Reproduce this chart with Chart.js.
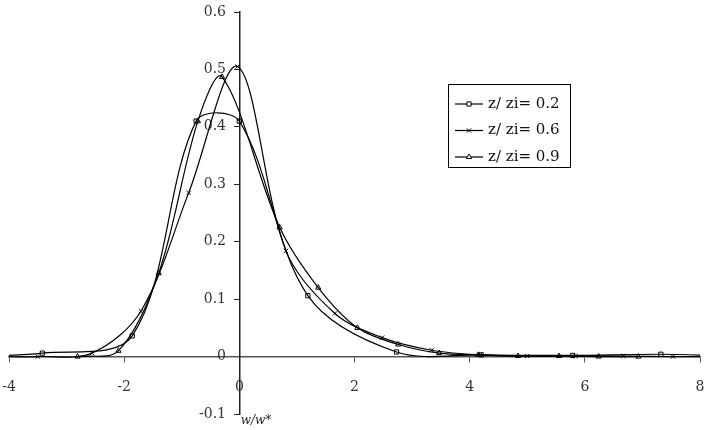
<!DOCTYPE html>
<html>
<head>
<meta charset="utf-8">
<script src="https://cdn.jsdelivr.net/npm/chart.js@4/dist/chart.umd.min.js"></script>
<style>
  html, body { margin: 0; padding: 0; background: #fff; }
  #wrap { position: relative; width: 705px; height: 430px; }
</style>
</head>
<body>
<div id="wrap"><canvas id="chart"></canvas></div>
<script>
// values
const seriesNames = ['z/ zi= 0.2', 'z/ zi= 0.6', 'z/ zi= 0.9'];
const pointStyles = ['rect', 'crossRot', 'triangle'];

const x02 = [-4.97, -3.42, -1.86, -0.75, 0, 1.19, 2.73, 4.2, 5.79, 7.32, 8.87];
const y02 = [0, 0.006, 0.036, 0.41, 0.41, 0.106, 0.008, 0.003, 0.002, 0.004, 0];

const x06 = [-4.34, -3.5, -2.56, -1.71, -0.88, -0.03, 0.81, 1.66, 2.48, 3.34, 4.18, 5.0, 5.84, 6.67, 7.53, 8.38];
const y06 = [0, 0, 0.006, 0.079, 0.285, 0.505, 0.184, 0.075, 0.033, 0.011, 0.003, 0.001, 0.001, 0.001, 0, 0];

const x09 = [-2.81, -2.1, -1.4, -0.72, -0.3, 0.7, 1.37, 2.05, 2.76, 3.47, 4.15, 4.84, 5.55, 6.24, 6.93];
const y09 = [0, 0.01, 0.145, 0.41, 0.487, 0.225, 0.12, 0.05, 0.021, 0.006, 0.003, 0.001, 0.001, 0, 0];

const xTicks = [-4, -2, 0, 2, 4, 6, 8];
const yTicks = [-0.1, 0, 0.1, 0.2, 0.3, 0.4, 0.5, 0.6];
const xTitle = 'w/w*';

const FONT = 'DejaVu Serif';
const INK = '#000';

function pts(xs, ys) {
  return xs.map((x, i) => ({ x, y: ys[i] }));
}

function makeSet(label, data, style) {
  return {
    label,
    data,
    pointStyle: style,
    borderColor: INK,
    backgroundColor: 'rgba(0,0,0,0)',
    borderWidth: 1.2,
    pointRadius: 3,
    pointBorderWidth: 1,
    pointBorderColor: INK,
    pointBackgroundColor: 'rgba(0,0,0,0)',
    tension: 0.33,
    fill: false,
  };
}

// legend box drawn on the canvas, built from the datasets
const boxLegend = {
  id: 'boxLegend',
  afterDraw(chart) {
    const ctx = chart.ctx;
    const left = 448, top = 84, w = 122, h = 83;
    ctx.save();
    ctx.strokeStyle = INK;
    ctx.lineWidth = 1;
    ctx.strokeRect(left + 0.5, top + 0.5, w, h);
    ctx.font = '15px "' + FONT + '"';
    ctx.textBaseline = 'middle';
    chart.data.datasets.forEach((ds, i) => {
      const y = top + 20 + i * 26.5;
      ctx.beginPath();
      ctx.moveTo(455, y);
      ctx.lineTo(483, y);
      ctx.strokeStyle = INK;
      ctx.lineWidth = 1.2;
      ctx.stroke();
      ctx.fillStyle = '#fff';
      ctx.lineWidth = 1;
      Chart.helpers.drawPoint(ctx, { pointStyle: ds.pointStyle, radius: 3, rotation: 0, borderWidth: 1 }, 469, y);
      ctx.fillStyle = '#111';
      ctx.fillText(ds.label, 488, y);
    });
    ctx.restore();
  },
};

// axis title under the crossing axes
const axisTitle = {
  id: 'axisTitle',
  afterDraw(chart) {
    const ctx = chart.ctx;
    ctx.save();
    ctx.font = 'italic 12px "' + FONT + '"';
    ctx.fillStyle = '#222';
    ctx.textAlign = 'center';
    ctx.textBaseline = 'middle';
    ctx.fillText(xTitle, 256, 421);
    ctx.restore();
  },
};

new Chart(document.getElementById('chart'), {
  type: 'line',
  data: {
    datasets: [
      makeSet(seriesNames[0], pts(x02, y02), pointStyles[0]),
      makeSet(seriesNames[1], pts(x06, y06), pointStyles[1]),
      makeSet(seriesNames[2], pts(x09, y09), pointStyles[2]),
    ],
  },
  options: {
    responsive: true,
    maintainAspectRatio: false,
    animation: false,
    layout: { padding: { left: 9, right: 2, top: 12, bottom: 16 } },
    plugins: { legend: { display: false }, tooltip: { enabled: false } },
    scales: {
      x: {
        type: 'linear',
        min: -4,
        max: 8,
        position: { y: 0 },
        afterFit(s) { s.height = 0; s.paddingLeft = 0; s.paddingRight = 0; },
        afterBuildTicks(s) { s.ticks = xTicks.map(v => ({ value: v })); },
        grid: { display: true, drawOnChartArea: false, drawTicks: true, tickLength: 5, color: '#555' },
        border: { display: true, color: '#555', width: 1.5 },
        ticks: { color: '#333', padding: 17, maxRotation: 0, font: { family: FONT, size: 14 } },
      },
      y: {
        type: 'linear',
        min: -0.1,
        max: 0.6,
        position: { x: 0 },
        afterFit(s) { s.width = 0; s.paddingTop = 0; s.paddingBottom = 0; },
        afterBuildTicks(s) { s.ticks = yTicks.map(v => ({ value: v })); },
        grid: { display: true, drawOnChartArea: false, drawTicks: true, tickLength: 5, color: '#222' },
        border: { display: true, color: '#222', width: 1.5 },
        // trailing spaces keep the right-aligned labels off the axis line
        ticks: { color: '#333', font: { family: FONT, size: 14 },
          callback: v => String(Math.round(v * 10) / 10) + '   ' },
      },
    },
  },
  plugins: [boxLegend, axisTitle],
});
</script>
</body>
</html>
